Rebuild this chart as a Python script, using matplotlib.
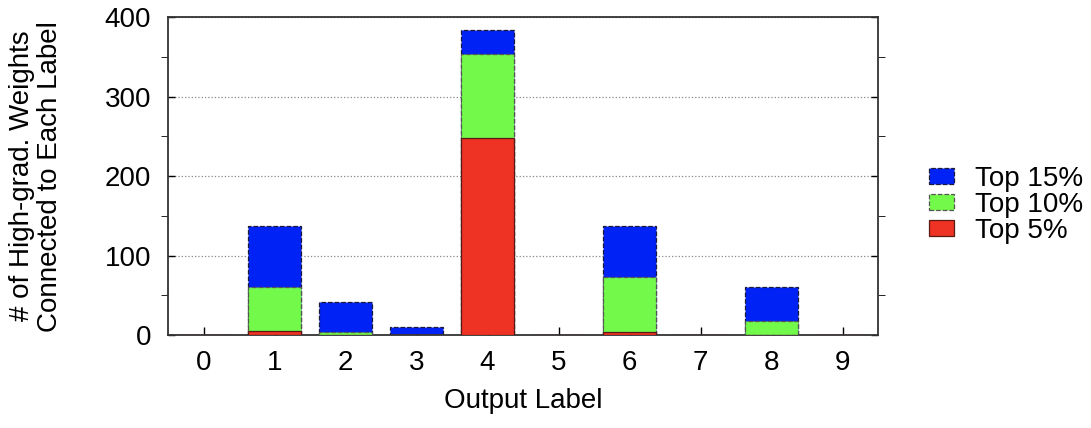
import matplotlib
matplotlib.use('Agg')
import matplotlib.pyplot as plt
from matplotlib.ticker import MultipleLocator

plt.rcParams['font.family'] = ['Liberation Sans', 'DejaVu Sans']

# ===================== DATOS =====================
labels = [0, 1, 2, 3, 4, 5, 6, 7, 8, 9]
top15 = [0, 137, 42, 10, 384, 0, 137, 0, 61, 0]
top10 = [0, 61, 4, 0, 354, 0, 73, 0, 18, 0]
top5 = [0, 5, 0, 0, 248, 0, 4, 0, 0, 0]

fig = plt.figure(figsize=(10.91, 4.28), dpi=100)
ax = fig.add_axes([0.154, 0.217, 0.651, 0.743])

ancho = 0.75
ax.bar(labels, top15, ancho, color='#0022f5', edgecolor='#1a1a3a',
       linestyle='--', linewidth=0.9, label='Top 15%', zorder=2)
ax.bar(labels, top10, ancho, color='#72f94a', edgecolor='#555555',
       linestyle='--', linewidth=0.9, label='Top 10%', zorder=3)
ax.bar(labels, top5, ancho, color='#ee3224', edgecolor='#5a1a14',
       linestyle='-', linewidth=0.9, label='Top 5%', zorder=4)

ax.set_xlim(-0.5, 9.5)
ax.set_ylim(0, 400)
ax.set_xticks(labels)
ax.yaxis.set_major_locator(MultipleLocator(100))
ax.yaxis.set_minor_locator(MultipleLocator(50))
ax.tick_params(axis='both', labelsize=20, direction='in', width=1, colors='black')
ax.tick_params(axis='y', which='both', left=True, right=True, length=5)
ax.tick_params(axis='x', top=False, length=6, pad=11)
ax.tick_params(axis='y', pad=12)
ax.grid(axis='y', linestyle=':', color='#888888', linewidth=0.9, zorder=0)
ax.set_axisbelow(True)
for sp in ax.spines.values():
    sp.set_linewidth(1.3)
    sp.set_color('#333333')

ax.set_xlabel('Output Label', fontsize=20, labelpad=8)
ax.set_ylabel('# of High-grad. Weights\nConnected to Each Label', fontsize=20,
              labelpad=30, linespacing=1.1)

ax.legend(loc='center left', bbox_to_anchor=(1.072, 0.41), frameon=False,
          fontsize=20, handlelength=0.9, handleheight=0.55, labelspacing=0.0,
          handletextpad=0.75, borderpad=0, borderaxespad=0)

fig.savefig('out.png', dpi=100)
